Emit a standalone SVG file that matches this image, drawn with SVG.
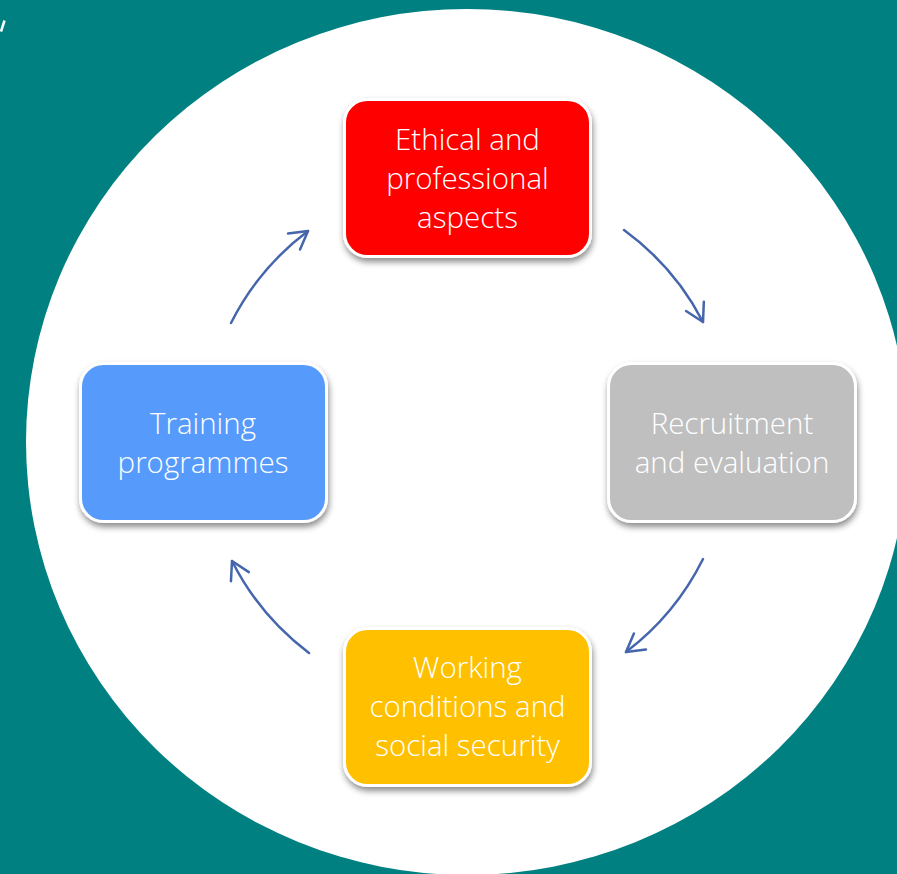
<svg xmlns="http://www.w3.org/2000/svg" width="897" height="874" viewBox="0 0 897 874">
  <style>
    .box { stroke: #ffffff; stroke-width: 3; filter: url(#shadow); }
    .label { font-family: "Open Sans", "Lato", "Liberation Sans", sans-serif; font-weight: 300; font-size: 29.5px; fill: #ffffff; text-anchor: middle; }
    .flow { fill: none; stroke: #4566ac; stroke-width: 2.5; stroke-linecap: round; marker-end: url(#chevron); }
  </style>
  <defs>
    <filter id="shadow" x="-10%" y="-10%" width="125%" height="130%">
      <feDropShadow dx="1" dy="4" stdDeviation="3" flood-color="#000000" flood-opacity="0.45"/>
    </filter>
    <marker id="chevron" markerUnits="userSpaceOnUse" markerWidth="30" markerHeight="30" viewBox="-22 -15 30 30" refX="0" refY="0" orient="auto">
      <path d="M -17.5 -10 L 0 0 L -17.5 10" fill="none" stroke="#4566ac" stroke-width="2.5" stroke-linecap="round" stroke-linejoin="round"/>
    </marker>
  </defs>

  <!-- background and disc -->
  <rect x="0" y="0" width="897" height="874" fill="#008080"/>
  <line x1="4.5" y1="20.5" x2="1" y2="31.5" stroke="#ffffff" stroke-width="2.5"/>
  <ellipse cx="467" cy="442" rx="441" ry="433" fill="#ffffff"/>

  <!-- cycle connectors -->
  <g id="connectors">
    <path class="flow" d="M 624 230 A 264 264 0 0 1 703 322"/>
    <path class="flow" d="M 703 559 A 264 264 0 0 1 626 652"/>
    <path class="flow" d="M 309 653 A 264 264 0 0 1 232 561"/>
    <path class="flow" d="M 231 323 A 264 264 0 0 1 308 231"/>
  </g>

  <g id="node-ethical">
    <rect class="box" x="344.5" y="99.5" width="246" height="157" rx="23" fill="#ff0000"/>
    <text class="label" x="467.5" y="150">Ethical and</text>
    <text class="label" x="467.5" y="189">professional</text>
    <text class="label" x="467.5" y="228">aspects</text>
  </g>

  <g id="node-recruitment">
    <rect class="box" x="608.5" y="363.5" width="247" height="158" rx="23" fill="#bfbfbf"/>
    <text class="label" x="732" y="434">Recruitment</text>
    <text class="label" x="732" y="473">and evaluation</text>
  </g>

  <g id="node-working">
    <rect class="box" x="344.5" y="628.5" width="246" height="157" rx="23" fill="#ffc000"/>
    <text class="label" x="467.5" y="678">Working</text>
    <text class="label" x="467.5" y="717">conditions and</text>
    <text class="label" x="467.5" y="756">social security</text>
  </g>

  <g id="node-training">
    <rect class="box" x="80.5" y="363.5" width="246" height="158" rx="23" fill="#579bfb"/>
    <text class="label" x="203" y="434">Training</text>
    <text class="label" x="203" y="473">programmes</text>
  </g>
</svg>
